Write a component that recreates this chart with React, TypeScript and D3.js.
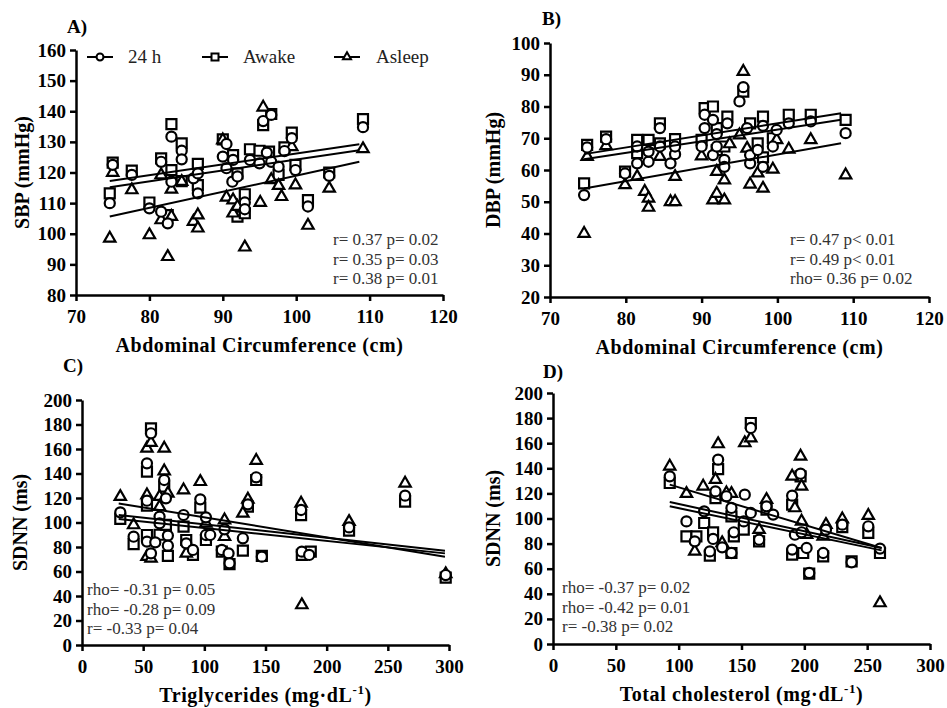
import React, { useRef, useEffect } from "react";
import * as d3 from "d3";

type Pt = [number, number];

// A) abdominal circumference (cm) vs SBP (mmHg)
const a24h: Pt[] = [[74.6,110],[75,122.5],[77.6,119.2],[80,108.3],[81.6,107.2],[81.6,123.5],[82.5,103.4],[83,131.7],[83,117],[84.4,127.1],[84.4,124.3],[86,118.1],[86.6,113.2],[86.6,119.7],[90,125.2],[90.5,129.3],[90.5,121.4],[91.4,124.1],[91.3,117],[92,118.7],[93,110.2],[93,108],[93.7,124.1],[95,123],[95.5,136.8],[96,126.5],[96.6,138.8],[96.6,123.5],[97.6,121.9],[98.4,127],[99.4,131.2],[99.9,120.8],[101.6,108.9],[104.5,118.9],[109.1,134.8]];
const aAwake: Pt[] = [[74.6,113.2],[75,123.2],[77.6,120.6],[80,110.2],[81.6,124.6],[82.5,106.1],[83,135.8],[83,120.8],[84.4,129.5],[84.4,117.2],[86.6,122.8],[86.6,115.9],[90,130.8],[91.4,125.7],[92,119.7],[92,105.6],[93,112.9],[93,106.7],[93.7,127.6],[95,127.1],[95.5,135.5],[96.3,126.8],[96.6,139.1],[97.6,119.2],[98.4,128.2],[99.4,133],[99.9,122.5],[101.6,111],[104.5,120],[109.1,137.4]];
const aAsleep: Pt[] = [[74.6,98.5],[75,120],[77.6,114.3],[80,99.6],[81.6,119.2],[81.6,104.5],[82.5,92.5],[83,114.5],[83,105.6],[84.4,117],[86,104],[86.6,106.1],[86.6,101.8],[90,130.6],[90.5,111.9],[91.4,111],[91.4,106.7],[92,108.9],[93,95.6],[95.1,110.2],[95.5,141.3],[96.6,117.6],[97.6,115.7],[98,112.1],[99.4,128.4],[99.9,115.9],[101.6,102.7],[104.5,114.8],[109.1,127.7]];
const aFits = [[74.6,117.2,108.6,129.2],[74.6,115.2,108.6,127.3],[74.6,105.6,108.6,123.5]];
const aStats = ["r= 0.37 p= 0.02", "r= 0.35 p= 0.03", "r= 0.38 p= 0.01"];

// B) abdominal circumference (cm) vs DBP (mmHg)
const b24h: Pt[] = [[74.5,52.1],[74.9,67.1],[77.4,69.7],[79.9,58.9],[81.5,67.4],[81.5,62.1],[83,62.6],[83,65.8],[84.5,73.2],[84.5,67.4],[85.9,62.1],[86.5,65],[86.5,67.4],[90,67.4],[90.4,73.2],[90.4,77.4],[91.5,75.8],[91.5,64.7],[92,71.3],[92,67.4],[93,63.2],[93,61],[93.4,74.7],[95,81.6],[95.5,86.1],[96,73.2],[96.4,62.1],[96.4,64.7],[97.4,66.3],[98.1,73.9],[98.1,61],[99.4,67.4],[99.9,72.6],[101.5,74.7],[104.4,75.3],[109,71.6]];
const bAwake: Pt[] = [[74.5,55.8],[74.9,67.9],[77.4,70.5],[79.9,59.5],[81.5,69.5],[81.5,65.3],[83,69.5],[84.5,74.7],[84.5,68.4],[86.5,69.7],[90,69.5],[90.4,79.5],[91.5,80],[92,73.2],[92,66.3],[93,67.4],[93.4,76.8],[95.5,84.7],[96.4,74.7],[97.4,68.4],[98.1,76.8],[98.1,64],[99.4,70],[101.5,77.4],[104.4,77.4],[109,75.8]];
const bAsleep: Pt[] = [[74.5,40],[74.9,64.2],[77.4,67.6],[79.9,55.3],[81.5,57.9],[82.5,53.2],[83,51.1],[83,48.2],[84.5,64.2],[85.9,50],[86.5,50],[86.5,57.9],[90,64.4],[91.5,50.5],[92,52.6],[92,59.5],[93,50.5],[93,56.8],[93.7,68.2],[95,71],[95.5,91],[96,66.8],[96.4,55.5],[97.4,59],[98.1,54.2],[99.4,60.2],[99.9,69.5],[101.5,66.5],[104.4,69.5],[109,58.4]];
const bFits = [[74.5,65,108.4,77.9],[74.5,63.4,108.4,75.8],[74.5,54.2,108.4,68.4]];
const bStats = ["r= 0.47 p< 0.01", "r= 0.49 p< 0.01", "rho= 0.36 p= 0.02"];

// C) triglycerides (mg/dL) vs SDNN (ms)
const c24h: Pt[] = [[31.3,108.3],[42.2,88.4],[53.1,148.3],[53.1,117.8],[53.1,84.4],[56.4,172.8],[56.4,74.8],[59.9,83.8],[63.4,104.8],[63.4,99.3],[67.2,134.7],[68.6,119.7],[70.2,89.3],[70.2,81.1],[83,106.1],[85.2,83],[90.7,77.6],[96.7,118.9],[101.3,104.2],[101.3,89.8],[104.8,89.8],[114.3,77.6],[116.5,94.4],[119.8,74.8],[120.6,66.7],[131.5,87.1],[135.6,114.8],[142.4,136.9],[147,72.1],[179.1,110.2],[179.7,76.2],[185.7,73.5],[218.3,96],[264.1,121.9],[297.3,57.1]];
const cAwake: Pt[] = [[31.3,102.9],[42.2,82.4],[53.1,141.5],[53.1,113.7],[53.1,89.8],[56.4,176.9],[63.4,90],[67.2,129.3],[68.6,98],[70.2,72.7],[83,96.6],[85.2,85.7],[90.7,73.5],[96.7,112.1],[101.3,85.7],[114.3,76.2],[120.6,66.1],[131.5,77],[135.6,112.9],[142.4,134.7],[147,72.7],[179.1,106.1],[179.7,73.5],[187,76.2],[218.3,93.3],[264.1,117],[297.3,55]];
const cAsleep: Pt[] = [[31.3,121.1],[42.2,98],[53.1,160.5],[53.1,122.4],[53.1,72.1],[56.4,165.2],[56.4,70.7],[63.4,121.1],[63.4,112.9],[67.2,160.5],[67.2,142],[70.2,123.8],[83,126.5],[85.2,74.8],[96.7,133.3],[101.3,99.3],[116.5,102],[116.5,88.4],[131.5,107.5],[135.6,118.9],[142.4,150.5],[179.1,115.6],[179.7,32.7],[218.3,100.7],[264.1,132],[297.3,58]];
const cFits = [[30,115.6,296.7,72.1],[30,106.1,296.7,77],[30,102.9,296.7,74.8]];
const cStats = ["rho= -0.31 p= 0.05", "rho= -0.28 p= 0.09", "r= -0.33 p= 0.04"];

// D) total cholesterol (mg/dL) vs SDNN (ms)
const d24h: Pt[] = [[92.9,133.6],[106.2,97.7],[112.8,81.8],[120.3,105.7],[124.8,73.8],[127.4,83.7],[129.3,121.6],[131.4,146.9],[134.6,77],[138,117.7],[142,108.4],[143.9,89],[142,72.5],[152.6,119],[151.8,97.7],[157.4,104.4],[157.4,172.1],[164,83.1],[169.9,109.7],[175.2,103.1],[190.3,118.2],[190.3,75.2],[192.5,87.1],[197,135.7],[197.8,89],[201.8,76.5],[203.9,56.6],[215,72.5],[217.2,91.1],[230.2,95.1],[237.6,65.1],[250.9,93.8],[260.2,76]];
const dAwake: Pt[] = [[92.9,128.3],[106.2,85.8],[114.1,85.8],[120.3,96.4],[124.8,70.4],[127.4,89],[129.3,116.3],[131.4,139.4],[142,101.7],[143.9,85.8],[142,72.5],[151.8,91.1],[157.4,176.1],[164,81.8],[169.9,107],[190.3,111],[190.3,71.2],[197,133.6],[199.1,72.5],[203.9,56],[215,69.9],[230.2,93.2],[237.6,65.9],[250.9,88.5],[260.2,72.5]];
const dAsleep: Pt[] = [[92.9,141.6],[106.2,119.8],[112.8,73.8],[119.5,125.6],[129.3,131],[131.4,159.4],[134.6,80.5],[138,120.3],[142,119.8],[152.6,160.2],[157.4,164.1],[164,91.1],[169.9,115],[190.3,133.6],[192.5,108.4],[197,149.5],[197.8,125.6],[197.8,97.7],[201.8,87.1],[215,85.8],[217.2,95.1],[230.2,99.6],[250.9,102.3],[260.2,32.7]];
const dFits = [[92.9,127,261.5,76.5],[92.9,113.1,261.5,76.5],[92.9,109.7,261.5,74.6]];
const dStats = ["rho= -0.37 p= 0.02", "rho= -0.42 p= 0.01", "r= -0.38 p= 0.02"];

const FONT = "'Liberation Serif', 'Times New Roman', serif";

const panels = [
  { tag: "A)", tagX: 67, tagY: 33, xr: [76, 443], yr: [295, 50], xd: [70, 120], yd: [80, 160],
    xt: d3.range(70, 121, 10), yt: d3.range(80, 161, 10), yTitle: "SBP (mmHg)", yTitleX: 22,
    xTitle: "Abdominal Circumference (cm)", sup: false, series: [aAwake, aAsleep, a24h],
    fits: aFits, stats: aStats, statX: 333, statY: 245, legend: true },
  { tag: "B)", tagX: 542, tagY: 25, xr: [550, 929], yr: [297, 43], xd: [70, 120], yd: [20, 100],
    xt: d3.range(70, 121, 10), yt: d3.range(20, 101, 10), yTitle: "DBP (mmHg)", yTitleX: 493,
    xTitle: "Abdominal Circumference (cm)", sup: false, series: [bAwake, bAsleep, b24h],
    fits: bFits, stats: bStats, statX: 790, statY: 245, legend: false },
  { tag: "C)", tagX: 63, tagY: 372, xr: [82, 449], yr: [645, 400], xd: [0, 300], yd: [0, 200],
    xt: d3.range(0, 301, 50), yt: d3.range(0, 201, 20), yTitle: "SDNN (ms)", yTitleX: 20,
    xTitle: "Triglycerides (mg·dL", sup: true, series: [cAwake, cAsleep, c24h],
    fits: cFits, stats: cStats, statX: 87, statY: 595, legend: false },
  { tag: "D)", tagX: 543, tagY: 378, xr: [553, 930], yr: [644, 393], xd: [0, 300], yd: [0, 200],
    xt: d3.range(0, 301, 50), yt: d3.range(0, 201, 20), yTitle: "SDNN (ms)", yTitleX: 493,
    xTitle: "Total cholesterol (mg·dL", sup: true, series: [dAwake, dAsleep, d24h],
    fits: dFits, stats: dStats, statX: 562, statY: 593, legend: false },
];

// series order in each panel: awake (square), asleep (triangle), 24 h (circle)
const symbols = [d3.symbolSquare, d3.symbolTriangle, d3.symbolCircle];
const symbolSizes = [100, 56, 80];
const legendSizes = [49, 28, 38];

const Panel = ({ p }: { p: any }) => {
  const ref = useRef<SVGGElement>(null);

  useEffect(() => {
    const g = d3.select(ref.current);
    g.selectAll("*").remove();
    const x = d3.scaleLinear().domain(p.xd).range(p.xr);
    const y = d3.scaleLinear().domain(p.yd).range(p.yr);

    p.series.forEach((data: Pt[], i: number) => {
      const sym = d3.symbol().type(symbols[i]).size(symbolSizes[i]);
      g.append("g")
        .selectAll("path")
        .data(data)
        .enter()
        .append("path")
        .attr("d", sym() as string)
        .attr("transform", (d) => `translate(${x(d[0])},${y(d[1])})`)
        .attr("fill", "#fff")
        .attr("stroke", "#000")
        .attr("stroke-width", 2.2);
    });

    p.fits.forEach((f: number[]) => {
      g.append("line")
        .attr("x1", x(f[0])).attr("y1", y(f[1]))
        .attr("x2", x(f[2])).attr("y2", y(f[3]))
        .attr("stroke", "#000").attr("stroke-width", 2);
    });

    const yAxis = g.append("g")
      .attr("transform", `translate(${p.xr[0]},0)`)
      .call(d3.axisLeft(y).tickValues(p.yt).tickSize(6).tickSizeOuter(0).tickPadding(4));
    const xAxis = g.append("g")
      .attr("transform", `translate(0,${p.yr[0]})`)
      .call(d3.axisBottom(x).tickValues(p.xt).tickSize(6).tickSizeOuter(0).tickPadding(9));
    [yAxis, xAxis].forEach((ax) => {
      ax.attr("font-family", FONT).attr("font-size", 19).attr("font-weight", "bold");
      ax.selectAll(".domain, .tick line").attr("stroke", "#000").attr("stroke-width", 2.5);
      ax.selectAll(".tick text").attr("fill", "#000");
    });

    g.append("text")
      .attr("x", p.tagX).attr("y", p.tagY)
      .attr("font-family", FONT).attr("font-size", 19).attr("font-weight", "bold")
      .text(p.tag);

    const cy = (p.yr[0] + p.yr[1]) / 2;
    g.append("text")
      .attr("transform", `translate(${p.yTitleX},${cy}) rotate(-90)`)
      .attr("text-anchor", "middle").attr("dominant-baseline", "central")
      .attr("font-family", FONT).attr("font-size", 20).attr("font-weight", "bold")
      .text(p.yTitle);

    const xt = g.append("text")
      .attr("x", (p.xr[0] + p.xr[1]) / 2).attr("y", p.yr[0] + 57)
      .attr("text-anchor", "middle")
      .attr("font-family", FONT).attr("font-size", 20).attr("font-weight", "bold")
      .attr("letter-spacing", 0.6);
    xt.append("tspan").text(p.xTitle);
    if (p.sup) {
      xt.append("tspan").attr("dy", -8).attr("font-size", 13).text("-1");
      xt.append("tspan").attr("dy", 8).text(")");
    }

    p.stats.forEach((s: string, i: number) => {
      g.append("text")
        .attr("x", p.statX).attr("y", p.statY + i * 19.5)
        .attr("font-family", FONT).attr("font-size", 17).attr("fill", "#333")
        .text(s);
    });

    if (p.legend) {
      const items = [
        { label: "24 h", cx: 100, tx: 128, s: 2 },
        { label: "Awake", cx: 215, tx: 243, s: 0 },
        { label: "Asleep", cx: 347, tx: 376, s: 1 },
      ];
      const ly = 57;
      items.forEach((it) => {
        g.append("line")
          .attr("x1", it.cx - 13).attr("x2", it.cx + 13)
          .attr("y1", ly).attr("y2", ly)
          .attr("stroke", "#000").attr("stroke-width", 2);
        g.append("path")
          .attr("d", d3.symbol().type(symbols[it.s]).size(legendSizes[it.s])() as string)
          .attr("transform", `translate(${it.cx},${ly})`)
          .attr("fill", "#fff").attr("stroke", "#000").attr("stroke-width", 2);
        g.append("text")
          .attr("x", it.tx).attr("y", ly + 6)
          .attr("font-family", FONT).attr("font-size", 19).attr("fill", "#222")
          .text(it.label);
      });
    }
  }, [p]);

  return <g ref={ref} />;
};

export default function App() {
  return (
    <svg width={947} height={708} style={{ position: "absolute", left: 0, top: 0, background: "#fff" }}>
      {panels.map((p) => (
        <Panel key={p.tag} p={p} />
      ))}
    </svg>
  );
}
